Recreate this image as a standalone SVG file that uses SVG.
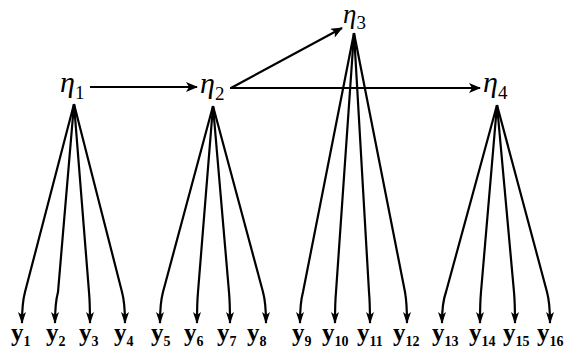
<svg xmlns="http://www.w3.org/2000/svg" width="564" height="355" viewBox="0 0 564 355">
<style>
.c{fill:none;stroke:#000;stroke-width:2.2;marker-end:url(#ah)}
.f{fill:none;stroke:#000;stroke-width:2.2;marker-end:url(#ad)}
.eta{font-family:"Liberation Serif",serif;font-style:italic;font-size:30px;fill:#000}
.es{font-family:"Liberation Serif",serif;font-style:normal;font-size:19px}
.y{font-family:"Liberation Serif",serif;font-weight:bold;font-size:25px;fill:#000}
.ys{font-size:14px}
</style>
<defs>
<marker id="ah" viewBox="0 0 12 10" refX="11" refY="5" markerWidth="12" markerHeight="10" markerUnits="userSpaceOnUse" orient="auto">
<path d="M0,0 L12,5 L0,10 L3,5 z" fill="#000"/>
</marker>
<marker id="ad" viewBox="0 0 12 8" refX="11" refY="4" markerWidth="12" markerHeight="8" markerUnits="userSpaceOnUse" orient="auto">
<path d="M0,0 L12,4 L0,8 L3,4 z" fill="#000"/>
</marker>
</defs>
<g id="connectors">
<path class="c" d="M90 87 L197 87"/>
<path class="c" d="M231 88 L342 28"/>
<path class="c" d="M230 88 L480 88"/>
<path class="f" d="M74 104 L25 292 Q22 303 22 323"/>
<path class="f" d="M74 104 L58 292 Q55 303 55 323"/>
<path class="f" d="M74 104 L89 292 Q90 303 90 323"/>
<path class="f" d="M74 104 L122 292 Q125 303 125 323"/>
<path class="f" d="M213 106 L163 292 Q160 303 160 323"/>
<path class="f" d="M213 106 L198 292 Q197 303 197 323"/>
<path class="f" d="M213 106 L229 292 Q230 303 230 323"/>
<path class="f" d="M213 106 L263 292 Q266 303 266 323"/>
<path class="f" d="M354 33 L303 292 Q300 303 300 323"/>
<path class="f" d="M354 33 L336 292 Q335 303 335 323"/>
<path class="f" d="M354 33 L369 292 Q370 303 370 323"/>
<path class="f" d="M354 33 L405 292 Q407 303 407 323"/>
<path class="f" d="M497 105 L446 292 Q442 303 442 323"/>
<path class="f" d="M497 105 L481 292 Q480 303 480 323"/>
<path class="f" d="M497 105 L514 292 Q515 303 515 323"/>
<path class="f" d="M497 105 L547 292 Q550 303 550 323"/>
</g>
<g id="eta1"><text class="eta" x="60" y="92">η<tspan class="es" dy="7">1</tspan></text></g>
<g id="eta2"><text class="eta" x="200" y="93">η<tspan class="es" dy="7">2</tspan></text></g>
<g id="eta3"><text class="eta" x="343" y="23" style="font-size:27px">η<tspan class="es" dy="6">3</tspan></text></g>
<g id="eta4"><text class="eta" x="483" y="92">η<tspan class="es" dy="7">4</tspan></text></g>
<g id="y1"><text class="y" x="11" y="341">y<tspan class="ys" dy="5">1</tspan></text></g>
<g id="y2"><text class="y" x="46" y="341">y<tspan class="ys" dy="5">2</tspan></text></g>
<g id="y3"><text class="y" x="79" y="341">y<tspan class="ys" dy="5">3</tspan></text></g>
<g id="y4"><text class="y" x="114" y="341">y<tspan class="ys" dy="5">4</tspan></text></g>
<g id="y5"><text class="y" x="151" y="341">y<tspan class="ys" dy="5">5</tspan></text></g>
<g id="y6"><text class="y" x="184" y="341">y<tspan class="ys" dy="5">6</tspan></text></g>
<g id="y7"><text class="y" x="217" y="341">y<tspan class="ys" dy="5">7</tspan></text></g>
<g id="y8"><text class="y" x="247" y="341">y<tspan class="ys" dy="5">8</tspan></text></g>
<g id="y9"><text class="y" x="292" y="341">y<tspan class="ys" dy="5">9</tspan></text></g>
<g id="y10"><text class="y" x="322" y="341">y<tspan class="ys" dy="5">10</tspan></text></g>
<g id="y11"><text class="y" x="357" y="341">y<tspan class="ys" dy="5">11</tspan></text></g>
<g id="y12"><text class="y" x="393" y="341">y<tspan class="ys" dy="5">12</tspan></text></g>
<g id="y13"><text class="y" x="432" y="341">y<tspan class="ys" dy="5">13</tspan></text></g>
<g id="y14"><text class="y" x="469" y="341">y<tspan class="ys" dy="5">14</tspan></text></g>
<g id="y15"><text class="y" x="503" y="341">y<tspan class="ys" dy="5">15</tspan></text></g>
<g id="y16"><text class="y" x="537" y="341">y<tspan class="ys" dy="5">16</tspan></text></g>
</svg>
